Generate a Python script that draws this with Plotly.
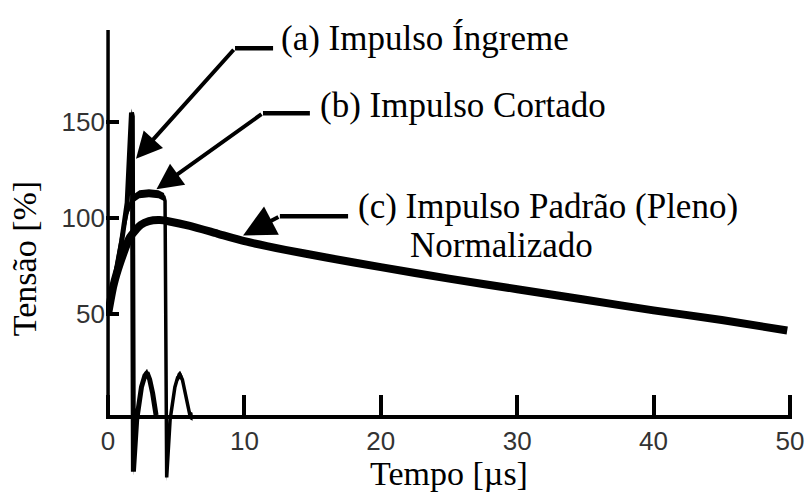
import plotly.graph_objects as go

# ---------------- data ----------------
# (c) standard full impulse, normalised
time_c = [0, 0.4, 0.9, 1.6, 2.4, 3.0, 3.8, 4.5, 6, 8, 10, 13, 16, 20, 25, 30, 35, 40, 45, 49.8]
volt_c = [50, 65, 77, 90, 96.5, 98.5, 99, 98.3, 96, 92, 88, 83.5, 79.5, 74.5, 68.5, 63, 57.5, 52, 47, 41.5]

# (b) chopped impulse
time_b = [0, 0.5, 1.0, 1.4, 1.8, 2.3, 3.0, 3.7, 4.1, 4.18, 4.3, 4.55, 4.9, 5.1, 5.28, 5.45, 5.65, 6.0, 6.2]
volt_b = [50, 70, 90, 103, 110, 112.5, 113, 112.5, 111, 109, -35, -5, 12, 17, 18.5, 16, 9.5, -2.6, -3.4]

# (a) steep-front impulse
time_a = [0, 0.5, 1.0, 1.4, 1.6, 1.72, 1.78, 1.86, 2.1, 2.45, 2.7, 2.86, 3.05, 3.27, 3.52]
volt_a = [50, 68, 88, 108, 135, 155, 153, -32, -5, 12, 18, 19.5, 16, 8.8, -2.6]

x_ticks = [0, 10, 20, 30, 40, 50]
y_ticks = [50, 100, 150]

label_a = "(a) Impulso Íngreme"
label_b = "(b) Impulso Cortado"
label_c1 = "(c) Impulso Padrão (Pleno)"
label_c2 = "Normalizado"
x_title = "Tempo [µs]"
y_title = "Tensão [%]"

# ---------------- layout constants ----------------
Y_MIN, Y_MAX = -40, 198
X_MIN, X_MAX = -0.15, 50.15
X_AXIS_AT = -3.4           # value of y where the time axis is drawn
PX_PER_Y = 1.92
SERIF = "Liberation Serif, Times New Roman, serif"
SANS = "Liberation Sans, Arial, sans-serif"

fig = go.Figure()


def add_pen_curve(xs, ys, half_px, width):
    """Curve drawn as a vertically thick band plus a thin core line."""
    d = half_px / PX_PER_Y
    fig.add_trace(go.Scatter(x=xs, y=[v - d for v in ys], mode="lines",
                             line=dict(width=0, color="black"), hoverinfo="skip",
                             showlegend=False))
    fig.add_trace(go.Scatter(x=xs, y=[v + d for v in ys], mode="lines",
                             line=dict(width=0, color="black"), fill="tonexty",
                             fillcolor="black", hoverinfo="skip", showlegend=False))
    fig.add_trace(go.Scatter(x=xs, y=ys, mode="lines",
                             line=dict(width=width, color="black"),
                             showlegend=False))


add_pen_curve(time_a, volt_a, 4.0, 5)
add_pen_curve(time_b, volt_b, 4.0, 3.5)
fig.add_trace(go.Scatter(x=time_c, y=volt_c, mode="lines",
                         line=dict(width=8, color="black", shape="spline", smoothing=0.6),
                         showlegend=False))

# y-axis line (only from the time axis upwards)
fig.add_shape(type="line", xref="x", yref="y", x0=0, x1=0, y0=X_AXIS_AT, y1=Y_MAX,
              line=dict(color="black", width=3.5))

# leader lines and arrows
arrows = [
    # tip x, tip y, tail x, tail y, end of horizontal part, head size
    (2.05, 131, 9.31, 188.5, 12.1, 1.3),
    (3.55, 115, 11.36, 154.7, 14.8, 1.3),
    (9.9, 91, 12.6, 101, 17.6, 1.6),
]
for tx, ty, sx, sy, ex, hs in arrows:
    fig.add_shape(type="line", xref="x", yref="y", x0=sx, x1=ex, y0=sy, y1=sy,
                  line=dict(color="black", width=4.5))
    fig.add_annotation(x=tx, y=ty, ax=sx, ay=sy, xref="x", yref="y",
                       axref="x", ayref="y", text="", showarrow=True,
                       arrowhead=2, arrowsize=hs, arrowwidth=4, arrowcolor="black")

texts = [
    (label_a, 12.6, 193.8),
    (label_b, 15.5, 158.9),
    (label_c1, 18.25, 106.0),
    (label_c2, 22.1, 86.0),
]
for t, x, y in texts:
    fig.add_annotation(x=x, y=y, xref="x", yref="y", text=t, showarrow=False,
                       xanchor="left", yanchor="middle", borderpad=0,
                       font=dict(family=SERIF, size=35, color="black"))

pos = (X_AXIS_AT - Y_MIN) / (Y_MAX - Y_MIN)

fig.update_layout(
    width=810, height=492,
    margin=dict(l=106, r=18, t=30, b=5),
    paper_bgcolor="white", plot_bgcolor="white",
    showlegend=False,
    xaxis=dict(range=[X_MIN, X_MAX], anchor="free", position=pos, automargin=False,
               showline=True, linecolor="black", linewidth=3.5,
               ticks="inside", ticklen=20, tickwidth=3.5, tickcolor="black",
               tickvals=x_ticks, ticktext=[str(v) for v in x_ticks],
               tickfont=dict(family=SANS, size=26, color="#333"),
               showgrid=False, zeroline=False,
               title=dict(text=x_title, font=dict(family=SERIF, size=34, color="black"),
                          standoff=0)),
    yaxis=dict(range=[Y_MIN, Y_MAX], showline=False, automargin=False,
               ticks="inside", ticklen=13, tickwidth=3.5, tickcolor="black",
               tickvals=y_ticks, ticktext=[str(v) for v in y_ticks],
               tickfont=dict(family=SANS, size=26, color="#333"),
               showgrid=False, zeroline=False,
               title=dict(text=y_title, font=dict(family=SERIF, size=34, color="black"),
                          standoff=14)),
)

fig.write_html("out.html", config={"displayModeBar": False},
               post_script="document.body.style.margin='0px';")
